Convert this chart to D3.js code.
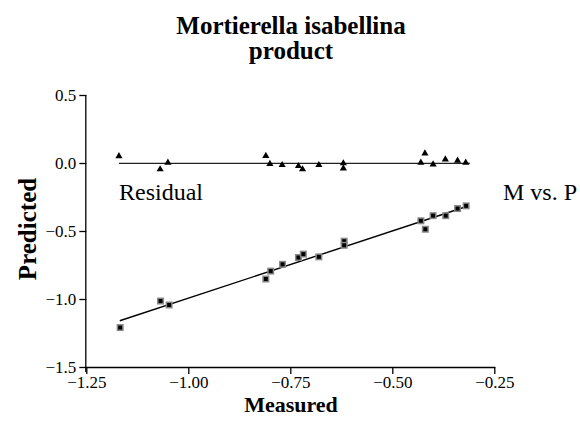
<!DOCTYPE html>
<html><head><meta charset="utf-8">
<script src="https://cdn.jsdelivr.net/npm/d3@7"></script>
<style>body{margin:0;background:#fff}svg{display:block}svg text{font-family:"Liberation Serif","Times New Roman",serif !important}</style>
</head><body>
<script>
const titleLines = ["Mortierella isabellina", "product"];
const xTicks = [-1.25, -1.00, -0.75, -0.50, -0.25];
const yTicks = [0.5, 0.0, -0.5, -1.0, -1.5];
const measured = [-1.167, -1.068, -1.047, -0.810, -0.798, -0.769, -0.730, -0.718, -0.680, -0.618, -0.618, -0.430, -0.419, -0.400, -0.369, -0.340, -0.319];
const predicted = [-1.21, -1.015, -1.044, -0.853, -0.795, -0.745, -0.695, -0.670, -0.690, -0.575, -0.605, -0.425, -0.487, -0.387, -0.387, -0.335, -0.315];
const resX = [-1.170, -1.069, -1.050, -0.810, -0.800, -0.770, -0.730, -0.720, -0.680, -0.620, -0.620, -0.420, -0.430, -0.400, -0.370, -0.340, -0.320];
const resY = [0.050, -0.046, 0.002, 0.052, -0.007, -0.015, -0.022, -0.046, -0.015, -0.002, -0.040, 0.071, 0.002, -0.010, 0.027, 0.017, 0.002];
const fitX = [-1.168, -0.318];
const fitY = [-1.160, -0.320];
const resLineX = [-1.170, -0.310];
const resLineY = [-0.003, -0.003];

const W = 580, H = 435;
const svg = d3.select("body").append("svg").attr("width", W).attr("height", H);
const x = d3.scaleLinear().domain([-1.25, -0.25]).range([86.3, 494.3]);
const y = d3.scaleLinear().domain([-1.5, 0.5]).range([367, 95]);
const minus = s => s.replace("-", "\u2212");

svg.selectAll("text.title").data(titleLines).join("text")
  .attr("x", 291).attr("y", (d, i) => 34 + i * 25)
  .attr("text-anchor", "middle").attr("font-weight", "bold").attr("font-size", 25).text(d => d);

const xa = svg.append("g").attr("transform", "translate(0,367)")
  .call(d3.axisBottom(x).tickValues(xTicks).tickFormat(d => minus(d.toFixed(2))).tickSize(7).tickPadding(2).tickSizeOuter(0));
const ya = svg.append("g").attr("transform", "translate(86.3,0)")
  .call(d3.axisLeft(y).tickValues(yTicks).tickFormat(d => minus(d.toFixed(1))).tickSize(7).tickSizeOuter(0));
[xa, ya].forEach(a => {
  a.attr("font-family", null).attr("font-size", null);
  a.selectAll("text").attr("font-size", 17).attr("fill", "#000");
  a.selectAll("line,path").attr("stroke", "#000").attr("stroke-width", 1.3);
});
ya.selectAll("text").attr("dy", "0.35em");
xa.select("path.domain").attr("d", `M${x(-1.25) - 1},0.5H${x(-0.25) + 1}`);
ya.select("path.domain").attr("d", `M-0.5,${y(0.5)}V${y(-1.5) + 5}`);

svg.append("text").attr("x", 291).attr("y", 412).attr("text-anchor", "middle")
  .attr("font-weight", "bold").attr("font-size", 22).text("Measured");
svg.append("text").attr("transform", "translate(36,229) rotate(-90)").attr("text-anchor", "middle")
  .attr("font-weight", "bold").attr("font-size", 25).text("Predicted");
svg.append("text").attr("x", 119).attr("y", 200).attr("font-size", 24).text("Residual");
svg.append("text").attr("x", 503).attr("y", 200).attr("font-size", 24).text("M vs. P");

const line = d3.line().x(d => x(d[0])).y(d => y(d[1]));
svg.append("path").attr("d", line(d3.zip(resLineX, resLineY))).attr("stroke", "#222").attr("stroke-width", 1.3).attr("fill", "none");
svg.append("path").attr("d", line(d3.zip(fitX, fitY))).attr("stroke", "#000").attr("stroke-width", 1.4).attr("fill", "none");

const tri = d3.symbol().type(d3.symbolTriangle).size(22);
svg.selectAll("path.tri").data(d3.zip(resX, resY)).join("path")
  .attr("transform", d => `translate(${x(d[0])},${y(d[1])})`).attr("d", tri).attr("fill", "#000");

const sq = svg.selectAll("g.sq").data(d3.zip(measured, predicted)).join("g")
  .attr("transform", d => `translate(${x(d[0])},${y(d[1])})`);
sq.append("rect").attr("x", -3.5).attr("y", -3.5).attr("width", 7).attr("height", 7).attr("fill", "#888");
sq.append("rect").attr("x", -2).attr("y", -2).attr("width", 4).attr("height", 4).attr("fill", "#000");
</script>
</body></html>
